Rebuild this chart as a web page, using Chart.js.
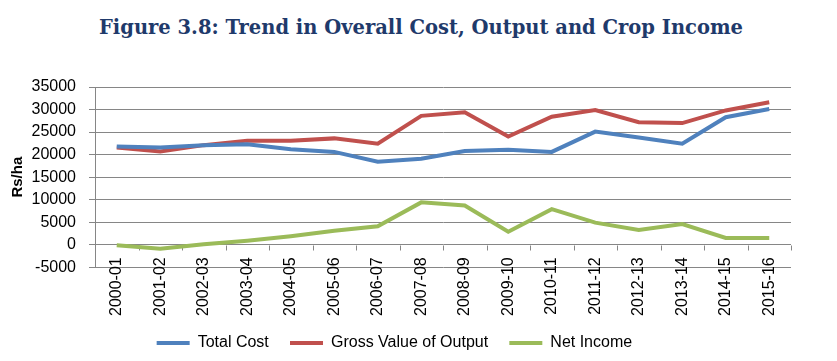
<!DOCTYPE html>
<html>
<head>
<meta charset="utf-8">
<script src="https://cdn.jsdelivr.net/npm/chart.js@4.4.0/dist/chart.umd.min.js"></script>
<style>
html,body{margin:0;padding:0;background:#fff;}
#wrap{width:837px;height:361px;position:relative;}
#title{position:absolute;left:0;width:842px;top:16px;text-align:center;
  font-family:"DejaVu Serif",Georgia,serif;font-weight:bold;font-size:19.5px;color:#1F3A6B;white-space:nowrap;line-height:24px;}
canvas{position:absolute;left:0;top:0;}
</style>
</head>
<body>
<div id="wrap"><div id="title"></div><canvas id="c" width="837" height="361"></canvas></div>
<script>
const categories = ["2000-01","2001-02","2002-03","2003-04","2004-05","2005-06","2006-07","2007-08","2008-09","2009-10","2010-11","2011-12","2012-13","2013-14","2014-15","2015-16"];
const totalCost = [21800,21600,22100,22300,21200,20600,18400,19100,20800,21100,20600,25100,23800,22400,28300,30100];
const grossValue = [21600,20700,22100,23100,23100,23600,22400,28600,29400,24000,28400,29900,27200,27000,29800,31600];
const netIncome = [-100,-900,100,900,1900,3100,4100,9400,8700,2900,7900,4900,3300,4600,1500,1500];
const yTicks = {min:-5000, max:35000, step:5000};
const titleText = "Figure 3.8: Trend in Overall Cost, Output and Crop Income";
const yTitle = "Rs/ha";

document.getElementById('title').textContent = titleText;

const gridColor = "#868686";
const txt = "#000";
const sans = '"Liberation Sans", Arial, sans-serif';

function ds(label, data, color){
  return {label, data, borderColor:color, backgroundColor:color, borderWidth:4,
    pointRadius:0, pointHoverRadius:0, tension:0, xAxisID:'x', yAxisID:'y'};
}

// horizontal axis crossing at value 0, with tick marks between categories
const zeroAxis = {
  id:'zeroAxis',
  beforeDatasetsDraw(chart){
    const {ctx, scales:{x, y}} = chart;
    const y0 = Math.round(y.getPixelForValue(0)) + 0.5;
    const n = categories.length;
    const step = (x.right - x.left) / n;
    ctx.save();
    ctx.strokeStyle = gridColor; ctx.lineWidth = 1;
    ctx.beginPath();
    for (let i = 0; i <= n; i++){
      const px = Math.round(x.left + i * step) + 0.5;
      ctx.moveTo(px, y0); ctx.lineTo(px, y0 + 5);
    }
    ctx.stroke();
    ctx.restore();
  }
};

new Chart(document.getElementById('c'), {
  type:'line',
  data:{labels:categories, datasets:[
    ds("Total Cost", totalCost, "#4F81BD"),
    ds("Gross Value of Output", grossValue, "#C0504D"),
    ds("Net Income", netIncome, "#9BBB59")
  ]},
  plugins:[zeroAxis],
  options:{
    responsive:false, animation:false,
    layout:{padding:{left:9,right:46,top:87,bottom:0}},
    plugins:{
      title:{display:false},
      legend:{position:'bottom',
        labels:{boxWidth:33, boxHeight:4, color:txt, padding:10,
          font:{family:sans,size:16},
          generateLabels:(chart)=>Chart.defaults.plugins.legend.labels.generateLabels(chart).map(l=>Object.assign(l,{lineWidth:0, text:l.text+'\u2002\u2009'}))}},
      tooltip:{enabled:false}
    },
    scales:{
      x:{type:'category', position:'bottom', offset:true,
        grid:{display:true, drawOnChartArea:false, drawTicks:true, tickLength:-10, color:'rgba(0,0,0,0)', lineWidth:0},
        border:{display:false},
        afterFit:(s)=>{ s.height += 9; },
        afterUpdate:(s)=>{ s._computeLabelArea = () => null; },
        ticks:{color:txt, maxRotation:90, minRotation:90, padding:0, autoSkip:false, font:{family:sans,size:16}}},
      y:{min:yTicks.min, max:yTicks.max,
        afterFit:(s)=>{ s.width = 86; },
        ticks:{stepSize:yTicks.step, color:txt, padding:13, autoSkip:false,
          callback:(v)=>String(v), font:{family:sans,size:16}},
        grid:{color:gridColor, tickLength:6, drawTicks:true},
        border:{display:true, color:gridColor},
        title:{display:true, text:yTitle, color:txt, font:{family:sans,size:15,weight:'bold'}, padding:{top:0,bottom:4}}}
    }
  }
});
</script>
</body>
</html>
